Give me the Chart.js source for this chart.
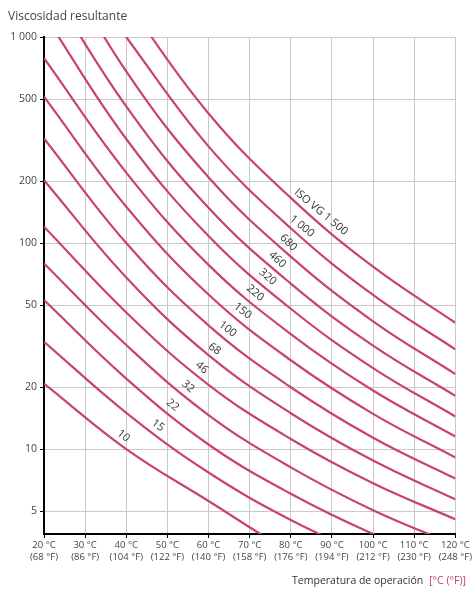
<!DOCTYPE html>
<html><head><meta charset="utf-8">
<script src="https://cdn.jsdelivr.net/npm/chart.js@4/dist/chart.umd.min.js"></script>
<style>html,body{margin:0;padding:0;background:#fff}#w{width:474px;height:597px}</style>
</head><body><div id="w"><canvas id="c" width="474" height="597"></canvas></div>
<script>
const temps = [20, 40, 60, 80, 100, 120];
const grades = ["10","15","22","32","46","68","100","150","220","320","460","680","1 000","ISO VG 1 500"];
// log10 of viscosity at temps
const logVisc = [
 [1.318, 1.000, 0.748, 0.500, 0.300, 0.140],
 [1.521, 1.176, 0.886, 0.656, 0.470, 0.310],
 [1.723, 1.342, 1.022, 0.783, 0.588, 0.430],
 [1.901, 1.505, 1.165, 0.911, 0.703, 0.534],
 [2.079, 1.663, 1.312, 1.049, 0.834, 0.659],
 [2.305, 1.833, 1.456, 1.174, 0.944, 0.756],
 [2.508, 2.000, 1.600, 1.300, 1.055, 0.857],
 [2.710, 2.176, 1.750, 1.431, 1.171, 0.959],
 [2.897, 2.342, 1.894, 1.558, 1.284, 1.061],
 [3.110, 2.505, 2.034, 1.681, 1.393, 1.158],
 [3.290, 2.663, 2.171, 1.803, 1.502, 1.258],
 [3.500, 2.833, 2.319, 1.934, 1.620, 1.364],
 [3.550, 3.000, 2.469, 2.072, 1.748, 1.484],
 [3.750, 3.176, 2.629, 2.219, 1.885, 1.613]
];
const labelTemps = [38, 46.5, 50, 53.7, 57, 60.3, 63.4, 67, 70, 73, 75.3, 78, 81.4, 86];
const yTicks = [5, 10, 20, 50, 100, 200, 500, 1000];
const xTicksC = ["20 °C","30 °C","40 °C","50 °C","60 °C","70 °C","80 °C","90 °C","100 °C","110 °C","120 °C"];
const xTicksF = ["(68 °F)","(86 °F)","(104 °F)","(122 °F)","(140 °F)","(158 °F)","(176 °F)","(194 °F)","(212 °F)","(230 °F)","(248 °F)"];

const curveColor = '#c8436e';
const datasets = logVisc.map(arr => ({
  data: arr.map((l, i) => ({x: temps[i], y: Math.pow(10, l)})),
  borderColor: curveColor, borderWidth: 2.2, pointRadius: 0, fill: false,
  tension: 0.4
}));

function logAt(arr, T) {
  for (let i = 0; i < temps.length - 1; i++) {
    if (T >= temps[i] && T <= temps[i+1]) {
      const f = (T - temps[i]) / (temps[i+1] - temps[i]);
      return arr[i] + f * (arr[i+1] - arr[i]);
    }
  }
  return arr[arr.length-1];
}

const deco = {
  id: 'deco',
  afterDatasetsDraw(chart) {
    const ctx = chart.ctx, xs = chart.scales.x, ys = chart.scales.y;
    ctx.save();
    ctx.font = '11px "Open Sans", sans-serif';
    ctx.fillStyle = '#333';
    grades.forEach((g, i) => {
      const T = labelTemps[i];
      const px = xs.getPixelForValue(T), py = ys.getPixelForValue(Math.pow(10, logAt(logVisc[i], T)));
      const px2 = xs.getPixelForValue(T + 1), py2 = ys.getPixelForValue(Math.pow(10, logAt(logVisc[i], T + 1)));
      const ang = Math.atan2(py2 - py, px2 - px);
      ctx.save();
      ctx.translate(px, py);
      ctx.rotate(ang);
      ctx.textAlign = 'center'; ctx.textBaseline = 'bottom';
      ctx.fillText(g, 0, -3);
      ctx.restore();
    });
    ctx.fillStyle = '#444';
    ctx.font = '12px "Open Sans", sans-serif';
    ctx.textAlign = 'left'; ctx.textBaseline = 'middle';
    ctx.fillText('Viscosidad resultante', 8, 17);
    ctx.font = '10.5px "Open Sans", sans-serif';
    const t2 = '[°C (°F)]';
    ctx.textAlign = 'right';
    ctx.fillStyle = '#c4416b';
    ctx.fillText(t2, 466, 581);
    const w2 = ctx.measureText(t2).width;
    ctx.fillStyle = '#333';
    ctx.fillText('Temperatura de operación', 466 - w2 - 6, 581);
    ctx.restore();
  }
};

new Chart(document.getElementById('c'), {
  type: 'line',
  data: { datasets },
  plugins: [deco],
  options: {
    responsive: false, animation: false,
    layout: { padding: { top: 37, right: 18, left: 0, bottom: 0 } },
    plugins: { legend: { display: false }, tooltip: { enabled: false } },
    scales: {
      x: {
        type: 'linear', min: 20, max: 120,
        afterFit(s) { s.height = 63; },
        afterBuildTicks(s) { s.ticks = xTicksC.map((_, i) => ({value: 20 + i * 10})); },
        ticks: {
          autoSkip: false, maxRotation: 0, color: '#444', padding: 2,
          font: { family: '"Open Sans", sans-serif', size: 9.5 },
          callback: (v) => { const i = Math.round((v - 20) / 10); return [xTicksC[i], xTicksF[i]]; }
        },
        grid: { color: '#c9c9c9', lineWidth: 1, tickLength: 4, tickColor: '#000' },
        border: { color: '#000', width: 2 }
      },
      y: {
        type: 'logarithmic', min: 3.87, max: 1000,
        afterFit(s) { s.width = 44; },
        afterBuildTicks(s) { s.ticks = yTicks.map(v => ({value: v})); },
        ticks: {
          autoSkip: false, color: '#444', padding: 3,
          font: { family: '"Open Sans", sans-serif', size: 10.5 },
          callback: (v) => v === 1000 ? '1 000' : String(v)
        },
        grid: { color: '#c9c9c9', lineWidth: 1, tickLength: 4, tickColor: '#000' },
        border: { color: '#000', width: 2 }
      }
    }
  }
});
</script></body></html>
